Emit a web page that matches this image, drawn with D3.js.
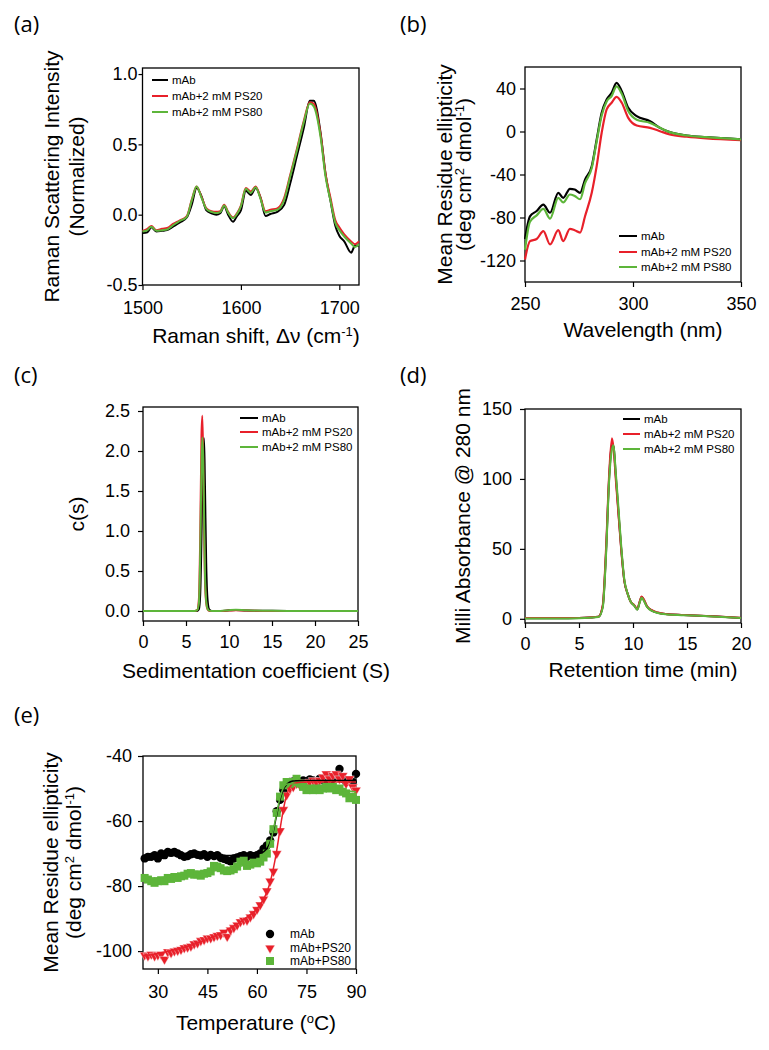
<!DOCTYPE html>
<html>
<head>
<meta charset="utf-8">
<script src="https://cdn.jsdelivr.net/npm/d3@7"></script>
<style>
  body { margin: 0; background: #fff; }
  svg { display: block; }
  text { font-family: "Liberation Sans", Arial, sans-serif; fill: #000; }
  .tick text { font-size: 18px; font-family: "Liberation Sans", Arial, sans-serif; }
  .tick line, .domain { stroke: #000; stroke-width: 1.2px; }
  .plabel { font-family: "Open Sans", sans-serif; font-size: 22px; }
  .title { font-size: 21px; }
  .leg { font-size: 11.5px; }
</style>
</head>
<body>
<svg></svg>
<script>
const W = 769, H = 1050;
const BLACK = '#000', RED = '#e8202a', GREEN = '#5db53a';
const seriesNames = ['mAb', 'mAb+2 mM PS20', 'mAb+2 mM PS80'];
const seriesNamesE = ['mAb', 'mAb+PS20', 'mAb+PS80'];
const seriesColors = [BLACK, RED, GREEN];

// (a) Raman
const ramanX = [1500, 1505, 1509, 1514, 1520, 1525, 1531, 1538, 1545, 1550, 1555, 1560, 1565, 1570, 1575, 1579, 1583, 1587, 1592, 1596, 1600, 1605, 1610, 1615, 1620, 1625, 1630, 1637, 1644, 1650, 1657, 1664, 1670, 1674, 1681, 1686, 1691, 1696, 1700, 1705, 1712, 1716, 1720];
const ramanMab = [-0.13, -0.125, -0.09, -0.12, -0.115, -0.11, -0.085, -0.055, -0.02, 0.07, 0.19, 0.13, 0.03, 0.01, 0.0, 0.01, 0.06, 0.0, -0.05, -0.01, 0.03, 0.17, 0.14, 0.19, 0.12, -0.01, 0.005, 0.02, 0.07, 0.22, 0.42, 0.62, 0.81, 0.81, 0.58, 0.29, 0.10, -0.08, -0.15, -0.19, -0.27, -0.22, -0.22];
const ramanPS20 = [-0.115, -0.10, -0.08, -0.11, -0.10, -0.095, -0.065, -0.04, -0.01, 0.105, 0.20, 0.125, 0.045, 0.025, 0.02, 0.025, 0.07, 0.02, -0.02, 0.01, 0.065, 0.19, 0.165, 0.20, 0.12, 0.025, 0.035, 0.045, 0.12, 0.28, 0.47, 0.67, 0.80, 0.79, 0.57, 0.29, 0.12, -0.04, -0.09, -0.14, -0.19, -0.21, -0.19];
const ramanPS80 = [-0.12, -0.11, -0.085, -0.115, -0.11, -0.105, -0.075, -0.045, -0.015, 0.10, 0.20, 0.12, 0.04, 0.02, 0.012, 0.018, 0.065, 0.015, -0.025, 0.005, 0.06, 0.185, 0.155, 0.195, 0.11, 0.015, 0.025, 0.035, 0.105, 0.27, 0.46, 0.66, 0.79, 0.77, 0.55, 0.27, 0.10, -0.06, -0.11, -0.155, -0.205, -0.23, -0.21];

// (b) near-UV CD
const cdX = [250, 252.3, 255.4, 258.5, 261.6, 265.4, 267.7, 270.8, 273, 275.5, 277.8, 280.9, 283.2, 285.5, 287.8, 290.1, 292.4, 294.8, 297.8, 301.7, 307.9, 312.5, 317, 324.9, 334, 350];
const cdMab = [-100, -79, -74, -68, -75.6, -57, -61.7, -53.3, -54, -57, -44.7, -32.3, -7.4, 17.4, 29.8, 36, 45.3, 37.5, 22, 14.3, 9.6, 3.4, -0.6, -3.7, -5.3, -7.4];
const cdPS20 = [-119, -102, -100, -92.7, -105, -91.8, -102, -90.5, -91.8, -94, -78.8, -57, -32, -1.2, 20.5, 26.7, 32.2, 26.7, 12.7, 5.6, 3.4, 0.3, -2.8, -4.9, -6.5, -8];
const cdPS80 = [-110, -84, -78, -72, -81, -61.7, -66, -58.6, -60, -63, -48, -34, -9, 15, 28, 33, 42, 35, 19, 11, 8, 3.4, -0.6, -3.7, -5.3, -7.4];

// (c) AUC c(s)
const sedX = [0, 5, 6.0, 6.3, 6.5, 6.65, 6.8, 6.9, 7.0, 7.1, 7.2, 7.35, 7.5, 7.7, 8.0, 9.0, 10.0, 10.8, 12.0, 15.0, 20.0, 25.0];
const sedMab = [0, 0, 0, 0, 0.02, 0.2, 0.9, 1.6, 2.1, 2.16, 1.6, 0.6, 0.15, 0.02, 0, 0, 0.008, 0.012, 0.006, 0.002, 0, 0];
const sedPS20 = [0, 0, 0, 0.01, 0.15, 0.9, 2.2, 2.44, 1.9, 1.0, 0.4, 0.1, 0.02, 0, 0, 0, 0.005, 0.01, 0.005, 0, 0, 0];
const sedPS80 = [0, 0, 0, 0.01, 0.1, 0.7, 1.8, 2.17, 1.9, 1.2, 0.5, 0.12, 0.03, 0.005, 0, 0, 0.01, 0.015, 0.008, 0.002, 0, 0];

// (d) SEC
const secX = [0, 2, 4, 6, 6.8, 7.2, 7.5, 7.8, 8.05, 8.2, 8.4, 8.6, 8.9, 9.2, 9.5, 9.8, 10.1, 10.4, 10.6, 10.8, 11.0, 11.3, 11.8, 12.3, 13, 14.7, 17.8, 20];
const secMab = [0.4, 0.4, 0.4, 0.9, 1.4, 9, 47, 102, 124, 123, 103, 82, 51, 27, 18, 12, 9.7, 6.7, 11.5, 15.5, 13.5, 8.7, 5.7, 4.3, 3.4, 2.7, 1.6, 0.6];
const secPS20 = [0.5, 0.5, 0.5, 1, 1.5, 10, 50, 105, 129, 122, 100, 80, 50, 27, 18, 12, 10, 7, 12, 16, 14, 9, 6, 4.5, 3.5, 2.8, 1.7, 0.8];
const secPS80 = [0.3, 0.3, 0.3, 0.8, 1.3, 8, 45, 100, 121, 124, 105, 85, 53, 28, 18, 12, 9.5, 6.5, 11, 15, 13, 8.5, 5.5, 4.2, 3.3, 2.6, 1.5, 0.5];

// (e) thermal melt
const tempX = [26, 27, 28, 29, 30, 31, 32, 33, 34, 35, 36, 37, 38, 39, 40, 41, 42, 43, 44, 45, 46, 47, 48, 49, 50, 51, 52, 53, 54, 55, 56, 57, 58, 59, 60, 61, 62, 63, 64, 65, 66, 67, 68, 69, 70, 71, 72, 73, 74, 75, 76, 77, 78, 79, 80, 81, 82, 83, 84, 85, 86, 87, 88, 89, 90];
const meltMab = [-71.5, -71, -71, -70.5, -71.5, -70, -70.5, -69.5, -69.8, -69.5, -70, -70.5, -71, -70.8, -70.2, -70, -70.4, -70.6, -70.2, -71, -70.4, -70.8, -70.5, -71.3, -71.6, -72, -72.4, -71.5, -71.2, -70.8, -70.5, -71, -70.5, -70.8, -70.5, -70, -68.5, -67.5, -66, -63.5, -57, -53.5, -50.5, -48.8, -48, -47.8, -47.5, -48, -47.5, -47.8, -47.2, -47.5, -47.8, -47, -47.5, -46.5, -47.8, -47, -46, -44, -47, -48, -47.5, -48, -45.5];
const meltPS20 = [-101.2, -101.5, -101, -101.5, -101.2, -101, -102.5, -100.2, -100.5, -100, -99.8, -99.5, -99, -98.8, -98.5, -97.8, -97.5, -96.8, -96.5, -96, -96, -95.6, -95.2, -95, -94.2, -95.5, -93.5, -92.8, -92, -91, -90.5, -90.5, -89.5, -88.5, -87.2, -85.8, -84, -81.5, -78.5, -75.5, -70, -63, -56.5, -52, -50, -49.5, -48.5, -49, -48.2, -48.6, -48, -47.5, -48, -47.5, -46.5, -45.5, -47, -46, -45.5, -47, -46, -48.5, -47, -49.5, -50.5];
const meltPS80 = [-77.5, -78, -78.5, -79, -78.5, -78.2, -78.5, -77.5, -77.8, -77.2, -77.5, -77, -76.8, -76.2, -76, -76.5, -76.4, -76.8, -76.2, -76, -75.5, -73.8, -74, -74.5, -75.2, -75.4, -75.2, -74.8, -74, -72.5, -72.2, -73.8, -73.4, -72.8, -73, -72.5, -71.2, -70, -67, -62.5, -57.5, -52.5, -49, -48, -48.5, -48, -47, -48.5, -49.5, -50.5, -50, -50.5, -50, -50.5, -50, -49.5, -50, -49.5, -50.5, -50, -51, -51.5, -53, -52.5, -53.5];
// fitted curves
const fitX = [25.5, 30, 40, 50, 55, 58, 60, 62, 63, 64, 65, 66, 67, 68, 69, 70, 71, 72, 75, 80, 90];
const fitMab = [-70.8, -70.7, -70.6, -70.6, -70.5, -70.4, -70.2, -69.5, -68.5, -66.5, -63, -58, -53.5, -50.3, -48.8, -48, -47.7, -47.6, -47.5, -47.5, -47.5];
const fitPS20 = [-101.5, -100.7, -98.2, -94, -91, -88.8, -87, -84, -81.8, -78.8, -74.5, -69, -62.5, -56.5, -52, -49.5, -48.5, -48.2, -48, -48, -48];
const fitPS80 = [-77.8, -77.5, -76.3, -74.8, -73.9, -73.2, -72.8, -71.5, -70, -67.2, -62.5, -57.5, -52.8, -49.8, -48.7, -48.5, -48.6, -48.8, -49.4, -50, -51];

const fmtInt = d => String(d);
const fmt1 = d => d.toFixed(1);

const svg = d3.select('svg').attr('width', W).attr('height', H);

function panel(c) {
  const x = d3.scaleLinear().domain(c.xd).range([c.L, c.R]);
  const y = d3.scaleLinear().domain(c.yd).range([c.B, c.T]);
  const g = svg.append('g');

  g.append('g')
    .attr('transform', `translate(0,${c.B})`)
    .call(d3.axisBottom(x).tickValues(c.xt).tickFormat(c.xf || fmtInt)
      .tickSizeInner(5).tickSizeOuter(0).tickPadding(c.xpad))
    .select('.domain').remove();

  g.append('g')
    .attr('transform', `translate(${c.L},0)`)
    .call(d3.axisLeft(y).tickValues(c.yt).tickFormat(c.yf || fmtInt)
      .tickSizeInner(c.ysize).tickSizeOuter(0).tickPadding(c.ypad))
    .select('.domain').remove();

  g.append('rect')
    .attr('x', c.L).attr('y', c.T)
    .attr('width', c.R - c.L).attr('height', c.B - c.T)
    .attr('fill', 'none').attr('stroke', '#000').attr('stroke-width', 1.3);

  g.append('text').attr('class', 'plabel')
    .attr('x', c.lx).attr('y', c.ly).text(c.label);

  const xt = g.append('text').attr('class', 'title')
    .attr('x', c.xtx).attr('y', c.xty).attr('text-anchor', 'middle');
  c.xtitle(xt);

  c.ytitle.forEach(([bx, fill]) => {
    const t = g.append('text').attr('class', 'title')
      .attr('text-anchor', 'middle')
      .attr('transform', `translate(${bx},${(c.T + c.B) / 2}) rotate(-90)`);
    fill(t);
  });
  return {x, y, g};
}

function sup(t, s) {
  t.append('tspan').attr('baseline-shift', 'super').attr('font-size', '13px').text(s);
}

function drawLines(p, xs, ys, width) {
  const line = d3.line().x((d, i) => p.x(xs[i])).y(d => p.y(d)).curve(d3.curveMonotoneX);
  ys.forEach((arr, k) => {
    p.g.append('path').datum(arr)
      .attr('d', line)
      .attr('fill', 'none')
      .attr('stroke', seriesColors[k])
      .attr('stroke-width', width)
      .attr('stroke-linejoin', 'round');
  });
}

function lineLegend(p, x0, x1, rows) {
  seriesNames.forEach((n, k) => {
    p.g.append('line').attr('x1', x0).attr('x2', x1)
      .attr('y1', rows[k]).attr('y2', rows[k])
      .attr('stroke', seriesColors[k]).attr('stroke-width', 2);
    p.g.append('text').attr('class', 'leg')
      .attr('x', x1 + 4).attr('y', rows[k] + 4).text(n);
  });
}

// (a)
const pa = panel({
  L: 142.5, R: 359, T: 68, B: 285, xd: [1500, 1720], yd: [-0.5, 1.043],
  xt: [1500, 1600, 1700], yt: [-0.5, 0, 0.5, 1.0], yf: fmt1,
  xpad: 11, ysize: 4, ypad: 1,
  label: '(a)', lx: 14, ly: 32,
  xtx: 256, xty: 343,
  xtitle: t => { t.append('tspan').text('Raman shift, Δν (cm'); sup(t, '-1'); t.append('tspan').text(')'); },
  ytitle: [[59, t => t.text('Raman Scattering Intensity')], [84, t => t.text('(Normalized)')]]
});
drawLines(pa, ramanX, [ramanMab, ramanPS20, ramanPS80], 2);
lineLegend(pa, 152, 168, [80, 96, 112]);

// (b)
const pb = panel({
  L: 525, R: 741, T: 67, B: 282, xd: [250, 350], yd: [-140, 60],
  xt: [250, 300, 350], yt: [-120, -80, -40, 0, 40],
  xpad: 10, ysize: 5, ypad: 4,
  label: '(b)', lx: 400, ly: 32,
  xtx: 643, xty: 337,
  xtitle: t => t.text('Wavelength (nm)'),
  ytitle: [[452, t => t.text('Mean Residue ellipticity')],
           [471, t => { t.append('tspan').text('(deg cm'); sup(t, '2'); t.append('tspan').text(' dmol'); sup(t, '-1'); t.append('tspan').text(')'); }]]
});
drawLines(pb, cdX, [cdMab, cdPS20, cdPS80], 2.2);
lineLegend(pb, 619, 637, [236, 252, 267]);

// (c)
const pc = panel({
  L: 143, R: 358, T: 407, B: 621, xd: [0, 25], yd: [-0.125, 2.55],
  xt: [0, 5, 10, 15, 20, 25], yt: [0, 0.5, 1.0, 1.5, 2.0, 2.5], yf: fmt1,
  xpad: 9, ysize: 5, ypad: 8,
  label: '(c)', lx: 14, ly: 383,
  xtx: 256, xty: 678,
  xtitle: t => t.text('Sedimentation coefficient (S)'),
  ytitle: [[84, t => t.text('c(s)')]]
});
drawLines(pc, sedX, [sedMab, sedPS20, sedPS80], 2);
lineLegend(pc, 240, 258, [418, 432, 447]);

// (d)
const pd = panel({
  L: 525, R: 741, T: 409, B: 623, xd: [0, 20], yd: [-3, 150],
  xt: [0, 5, 10, 15, 20], yt: [0, 50, 100, 150],
  xpad: 9, ysize: 5, ypad: 8,
  label: '(d)', lx: 400, ly: 383,
  xtx: 643, xty: 677,
  xtitle: t => t.text('Retention time (min)'),
  ytitle: [[470, t => t.text('Milli Absorbance @ 280 nm')]]
});
drawLines(pd, secX, [secMab, secPS20, secPS80], 2);
lineLegend(pd, 623, 640, [419, 434, 449]);

// (e)
const pe = panel({
  L: 143, R: 356, T: 756, B: 969, xd: [25.5, 90], yd: [-105.5, -40],
  xt: [30, 45, 60, 75, 90], yt: [-100, -80, -60, -40],
  xpad: 11, ysize: 5, ypad: 6,
  label: '(e)', lx: 14, ly: 723,
  xtx: 256, xty: 1030,
  xtitle: t => { t.append('tspan').text('Temperature ('); sup(t, 'o'); t.append('tspan').text('C)'); },
  ytitle: [[58, t => t.text('Mean Residue ellipticity')],
           [81, t => { t.append('tspan').text('(deg cm'); sup(t, '2'); t.append('tspan').text(' dmol'); sup(t, '-1'); t.append('tspan').text(')'); }]]
});

const symbols = [d3.symbolCircle, d3.symbolTriangle, d3.symbolSquare];
const symSizes = [55, 42, 64];
const symRot = [0, 180, 0];
function marker(g, k, cx, cy) {
  g.append('path')
    .attr('d', d3.symbol().type(symbols[k]).size(symSizes[k])())
    .attr('transform', `translate(${cx},${cy}) rotate(${symRot[k]})`)
    .attr('fill', seriesColors[k])
    .attr('stroke', k === 1 ? '#fff' : 'none')
    .attr('stroke-width', 0.4);
}
[meltMab, meltPS20, meltPS80].forEach((arr, k) => {
  arr.forEach((v, i) => marker(pe.g, k, pe.x(tempX[i]), pe.y(v)));
});
const fitLine = d3.line().x((d, i) => pe.x(fitX[i])).y(d => pe.y(d)).curve(d3.curveMonotoneX);
[fitMab, fitPS20, fitPS80].forEach((arr, k) => {
  pe.g.append('path').datum(arr).attr('d', fitLine)
    .attr('fill', 'none').attr('stroke', seriesColors[k]).attr('stroke-width', 1.5);
});
[934, 948, 961].forEach((yy, k) => {
  marker(pe.g, k, 270, yy);
  pe.g.append('text').attr('class', 'leg').style('font-size', '12px')
    .attr('x', 290).attr('y', yy + 4).text(seriesNamesE[k]);
});
</script>
</body>
</html>
